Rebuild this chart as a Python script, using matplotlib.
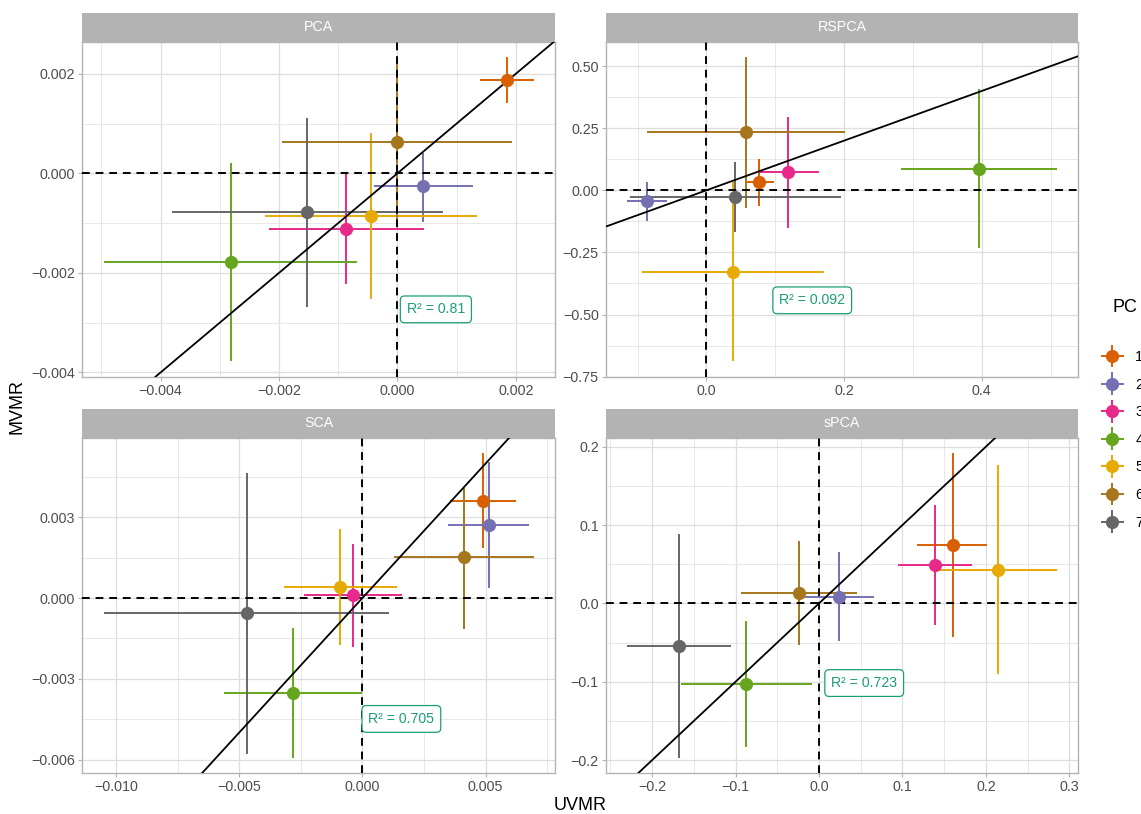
import numpy as np
import matplotlib
matplotlib.use("Agg")
import matplotlib.pyplot as plt
from matplotlib.ticker import MultipleLocator, AutoMinorLocator, FuncFormatter
from matplotlib.legend_handler import HandlerErrorbar
from matplotlib.container import ErrorbarContainer

plt.rcParams['font.family'] = ['Liberation Sans', 'DejaVu Sans']

pcs = ['1', '2', '3', '4', '5', '6', '7']
pc_colors = ['#D95F02', '#7570B3', '#E7298A', '#66A61E', '#E6AB02', '#A6761D', '#666666']
methods = ['PCA', 'RSPCA', 'SCA', 'sPCA']
r2 = ['0.81', '0.092', '0.705', '0.723']

# PCA estimates (UVMR on x, MVMR on y) with interval bounds
pca_uv = [0.00185, 0.00043, -0.00086, -0.00281, -0.00045, -0.00001, -0.00152]
pca_uv_lo = [0.00139, -0.00040, -0.00217, -0.00496, -0.00224, -0.00195, -0.00381]
pca_uv_hi = [0.00230, 0.00127, 0.00045, -0.00068, 0.00135, 0.00194, 0.00077]
pca_mv = [0.00188, -0.00025, -0.00112, -0.00179, -0.00086, 0.00064, -0.00078]
pca_mv_lo = [0.00141, -0.00098, -0.00223, -0.00378, -0.00253, -0.00100, -0.00268]
pca_mv_hi = [0.00234, 0.00041, -0.00001, 0.00021, 0.00082, 0.00228, 0.00112]

# RSPCA
rspca_uv = [0.077, -0.086, 0.119, 0.396, 0.039, 0.057, 0.042]
rspca_uv_lo = [0.058, -0.115, 0.076, 0.283, -0.093, -0.086, -0.111]
rspca_uv_hi = [0.098, -0.057, 0.163, 0.509, 0.171, 0.201, 0.195]
rspca_mv = [0.032, -0.043, 0.074, 0.086, -0.327, 0.233, -0.027]
rspca_mv_lo = [-0.062, -0.122, -0.152, -0.233, -0.689, -0.072, -0.169]
rspca_mv_hi = [0.126, 0.035, 0.297, 0.406, 0.035, 0.537, 0.115]

# SCA
sca_uv = [0.00491, 0.00512, -0.00038, -0.00281, -0.00089, 0.00411, -0.00470]
sca_uv_lo = [0.00357, 0.00347, -0.00238, -0.00562, -0.00319, 0.00127, -0.01049]
sca_uv_hi = [0.00624, 0.00677, 0.00162, -0.00001, 0.00139, 0.00694, 0.00108]
sca_mv = [0.00362, 0.00273, 0.00011, -0.00353, 0.00041, 0.00151, -0.00057]
sca_mv_lo = [0.00185, 0.00039, -0.00182, -0.00593, -0.00175, -0.00116, -0.00579]
sca_mv_hi = [0.00539, 0.00506, 0.00202, -0.00113, 0.00256, 0.00409, 0.00466]

# sPCA
spca_uv = [0.160, 0.024, 0.139, -0.087, 0.215, -0.024, -0.168]
spca_uv_lo = [0.118, -0.018, 0.095, -0.165, 0.144, -0.094, -0.230]
spca_uv_hi = [0.201, 0.066, 0.183, -0.009, 0.285, 0.045, -0.106]
spca_mv = [0.074, 0.008, 0.049, -0.103, 0.043, 0.013, -0.054]
spca_mv_lo = [-0.043, -0.048, -0.028, -0.184, -0.090, -0.053, -0.197]
spca_mv_hi = [0.192, 0.065, 0.126, -0.022, 0.176, 0.079, 0.088]

panels = [
    (pca_uv, pca_uv_lo, pca_uv_hi, pca_mv, pca_mv_lo, pca_mv_hi),
    (rspca_uv, rspca_uv_lo, rspca_uv_hi, rspca_mv, rspca_mv_lo, rspca_mv_hi),
    (sca_uv, sca_uv_lo, sca_uv_hi, sca_mv, sca_mv_lo, sca_mv_hi),
    (spca_uv, spca_uv_lo, spca_uv_hi, spca_mv, spca_mv_lo, spca_mv_hi),
]

# tick step and decimals for (x, y) of each panel
tick_setup = [
    ((0.002, 3), (0.002, 3)),
    ((0.2, 1), (0.25, 2)),
    ((0.005, 3), (0.003, 3)),
    ((0.1, 1), (0.1, 1)),
]
label_pos = [(0.748, 0.201), (0.437, 0.228), (0.675, 0.161), (0.547, 0.268)]


def num_fmt(decimals):
    def f(v, pos):
        return f'{round(v, decimals) + 0.0:.{decimals}f}'.replace('-', '\u2212')
    return FuncFormatter(f)


W, H = 1141, 814
fig = plt.figure(figsize=(W / 100, H / 100), dpi=100)

# panel boxes in pixels: left, right, top, bottom
boxes = [
    (82.3, 555.0, 41.7, 376.7),
    (605.7, 1078.3, 41.7, 376.7),
    (82.3, 555.0, 437.7, 772.9),
    (605.7, 1078.3, 437.7, 772.9),
]
strip_h = 28.8

grid_col = '#DEDEDE'
border_col = '#B3B3B3'
text_col = '#4D4D4D'
r2_col = '#1B9E77'

handles = []
for i, (name, data, (xt, yt), lp, box) in enumerate(zip(methods, panels, tick_setup, label_pos, boxes)):
    l, r, t, b = box
    ax = fig.add_axes([l / W, 1 - b / H, (r - l) / W, (b - t) / H])
    uv, uv_lo, uv_hi, mv, mv_lo, mv_hi = [np.asarray(a) for a in data]

    for k in range(len(pcs)):
        cont = ax.errorbar(uv[k], mv[k],
                           xerr=[[uv[k] - uv_lo[k]], [uv_hi[k] - uv[k]]],
                           yerr=[[mv[k] - mv_lo[k]], [mv_hi[k] - mv[k]]],
                           fmt='o', color=pc_colors[k], ms=9.5, mew=0,
                           elinewidth=1.4, capsize=0, label=pcs[k])
        cont[0].set_zorder(5)
        for c in cont[2]:
            c.set_zorder(2)
        if i == 0:
            handles.append(cont)

    ax.margins(0.05)
    ax.autoscale_view()
    xlim, ylim = ax.get_xlim(), ax.get_ylim()

    ax.axhline(0, color='black', lw=1.4, ls=(0, (4, 3)), zorder=3)
    ax.axvline(0, color='black', lw=1.4, ls=(0, (4, 3)), zorder=3)
    ax.axline((0, 0), slope=1, color='black', lw=1.3, zorder=4)
    ax.set_xlim(xlim)
    ax.set_ylim(ylim)

    ax.text(lp[0], lp[1], f'R² = {r2[i]}', transform=ax.transAxes,
            ha='center', va='center', color=r2_col, fontsize=10.2, zorder=6,
            bbox=dict(boxstyle='round,pad=0.45,rounding_size=0.3', fc='white',
                      ec=r2_col, lw=0.9))

    ax.xaxis.set_major_locator(MultipleLocator(xt[0]))
    ax.yaxis.set_major_locator(MultipleLocator(yt[0]))
    ax.xaxis.set_minor_locator(AutoMinorLocator(2))
    ax.yaxis.set_minor_locator(AutoMinorLocator(2))
    ax.xaxis.set_major_formatter(num_fmt(xt[1]))
    ax.yaxis.set_major_formatter(num_fmt(yt[1]))
    ax.grid(which='major', color=grid_col, lw=0.9)
    ax.grid(which='minor', color=grid_col, lw=0.5)
    ax.set_axisbelow(True)
    ax.tick_params(which='major', length=3, width=0.8, color=border_col,
                   labelcolor=text_col, labelsize=10.3, pad=2)
    ax.tick_params(which='minor', length=0)
    for s in ax.spines.values():
        s.set_color(border_col)
        s.set_linewidth(1.0)

    # facet strip
    sax = fig.add_axes([l / W, 1 - t / H, (r - l) / W, strip_h / H])
    sax.set_facecolor('#B3B3B3')
    sax.set_xticks([])
    sax.set_yticks([])
    for s in sax.spines.values():
        s.set_visible(False)
    sax.text(0.5, 0.5, name, ha='center', va='center', color='white',
             fontsize=10.3, transform=sax.transAxes)

fig.text(580 / W, 1 - 805 / H, 'UVMR', ha='center', va='center', fontsize=13)
fig.text(17 / W, 1 - 407 / H, 'MVMR', ha='center', va='center', fontsize=13,
         rotation=90)

fig.text(1112 / W, 1 - 308 / H, 'PC', ha='left', va='center', fontsize=13)
fig.legend(handles, pcs, loc='upper left', bbox_to_anchor=(1098 / W, 1 - 350 / H),
           frameon=False, fontsize=10.3, borderpad=0, borderaxespad=0,
           handlelength=2.0, handletextpad=0.6, labelspacing=0.95,
           handler_map={ErrorbarContainer: HandlerErrorbar(xerr_size=0.8)})

fig.savefig('out.png', dpi=100)
